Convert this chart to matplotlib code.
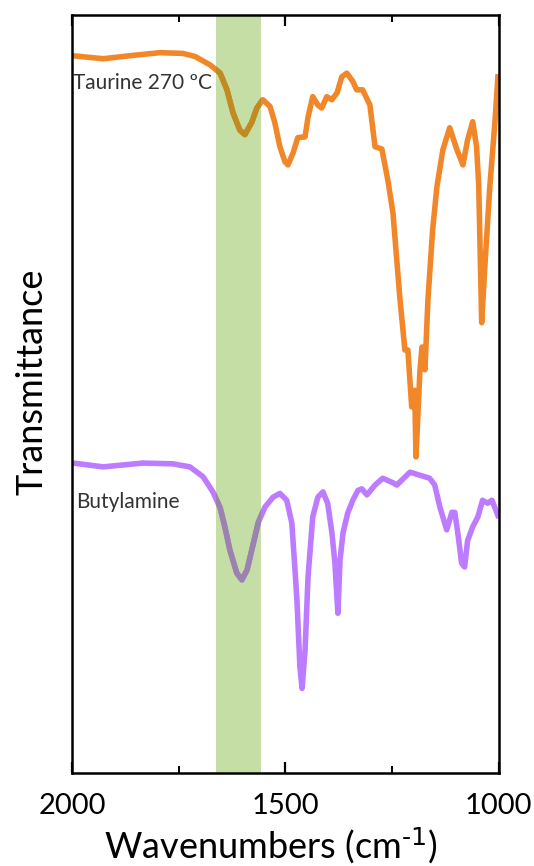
import matplotlib.pyplot as plt

plt.rcParams['font.family'] = ['Lato', 'DejaVu Sans']
plt.rcParams['mathtext.default'] = 'regular'

# Taurine 270 C spectrum (wavenumber, transmittance in arb. units)
taurine_wn = [2000, 1927, 1864, 1794, 1740, 1712, 1677, 1653, 1637, 1623,
              1607, 1595, 1579, 1567, 1553, 1536, 1525, 1513, 1501, 1494,
              1482, 1471, 1454, 1447, 1436, 1424, 1415, 1403, 1391, 1379,
              1368, 1356, 1342, 1333, 1319, 1302, 1290, 1274, 1260, 1248,
              1232, 1220, 1213, 1204, 1197, 1194, 1185, 1180, 1173, 1166,
              1155, 1145, 1131, 1115, 1098, 1084, 1073, 1061, 1052, 1047,
              1040, 1033, 1021, 1009, 1002]
taurine_t = [94.6, 94.2, 94.6, 95.0, 94.9, 94.5, 93.4, 92.3, 90.1, 87.1,
             84.8, 84.2, 85.8, 87.7, 88.8, 87.9, 85.8, 82.6, 80.6, 80.2,
             81.8, 83.8, 83.9, 86.5, 89.2, 88.1, 87.7, 89.2, 88.8, 89.7,
             91.8, 92.3, 91.2, 90.1, 90.1, 88.1, 82.6, 82.3, 78.2, 73.9,
             62.8, 55.8, 55.8, 48.3, 50.5, 41.7, 52.8, 56.2, 53.2, 62.4,
             71.6, 77.3, 82.2, 85.1, 82.2, 80.2, 83.5, 85.9, 82.6, 77.6,
             59.4, 66.4, 77.3, 85.8, 91.8]

# Butylamine spectrum
butyl_wn = [1998, 1927, 1834, 1764, 1724, 1693, 1670, 1653, 1642, 1630,
            1614, 1602, 1590, 1579, 1564, 1548, 1529, 1513, 1497, 1485,
            1478, 1473, 1466, 1461, 1454, 1447, 1436, 1424, 1412, 1401,
            1391, 1384, 1377, 1372, 1365, 1354, 1342, 1330, 1321, 1309,
            1290, 1272, 1248, 1239, 1208, 1185, 1162, 1150, 1138, 1122,
            1110, 1103, 1096, 1087, 1080, 1073, 1061, 1049, 1038, 1026,
            1016, 1002]
butyl_t = [40.9, 40.4, 40.9, 40.8, 40.4, 39.1, 37.1, 35.0, 32.5, 29.4,
           26.4, 25.5, 26.8, 29.4, 33.0, 35.1, 36.4, 36.9, 36.0, 33.0,
           27.2, 22.8, 14.0, 11.2, 16.2, 25.9, 33.8, 36.4, 37.1, 35.6,
           31.7, 27.7, 21.1, 28.1, 31.7, 34.3, 36.0, 37.3, 37.5, 36.7,
           38.0, 38.9, 38.3, 38.0, 39.7, 39.3, 38.9, 38.0, 35.1, 32.1,
           34.4, 34.4, 31.7, 27.7, 27.2, 30.7, 32.5, 33.8, 36.0, 35.6,
           36.0, 34.0]

band = (1663, 1557)
xticks_major = [2000, 1500, 1000]
xticks_minor = [1750, 1250]

fig = plt.figure(figsize=(5.34, 8.66), dpi=100)
ax = fig.add_axes([0.135, 0.107, 0.799, 0.876])

shade = ax.axvspan(band[1], band[0], color='#C5DEA5', lw=0, zorder=1)

lw = 4
ax.plot(taurine_wn, taurine_t, color='#F2872A', lw=lw, zorder=2,
        solid_joinstyle='round')
ax.plot(butyl_wn, butyl_t, color='#BD7BFF', lw=lw, zorder=2,
        solid_joinstyle='round')

# darker tint where the curves pass through the shaded band
l1, = ax.plot(taurine_wn, taurine_t, color='#BE8C23', lw=lw, zorder=3,
              solid_joinstyle='round')
l2, = ax.plot(butyl_wn, butyl_t, color='#9C83AE', lw=lw, zorder=3,
              solid_joinstyle='round')
l1.set_clip_path(shade)
l2.set_clip_path(shade)

ax.text(1997, 91.0, 'Taurine 270 ºC', fontsize=15, color='#333333',
        va='center', ha='left')
ax.text(1990, 35.8, 'Butylamine', fontsize=15, color='#333333',
        va='center', ha='left')

ax.set_xlim(2000, 1000)
ax.set_ylim(0, 100)
ax.set_xticks(xticks_major)
ax.set_xticks(xticks_minor, minor=True)
ax.set_yticks([])
ax.tick_params(axis='x', which='major', direction='in', length=8, width=1.6,
               top=True, labelsize=21, pad=14, colors='black')
ax.tick_params(axis='x', which='minor', direction='in', length=5, width=1.4,
               top=True)
for s in ax.spines.values():
    s.set_linewidth(1.8)

ax.set_xlabel('Wavenumbers (cm$^{\\text{-1}}$)', fontsize=26, labelpad=5)
ax.set_ylabel('Transmittance', fontsize=26, labelpad=17)
ax.xaxis.label.set_x(0.465)
ax.yaxis.label.set_y(0.516)

fig.savefig('out.png', dpi=100)
